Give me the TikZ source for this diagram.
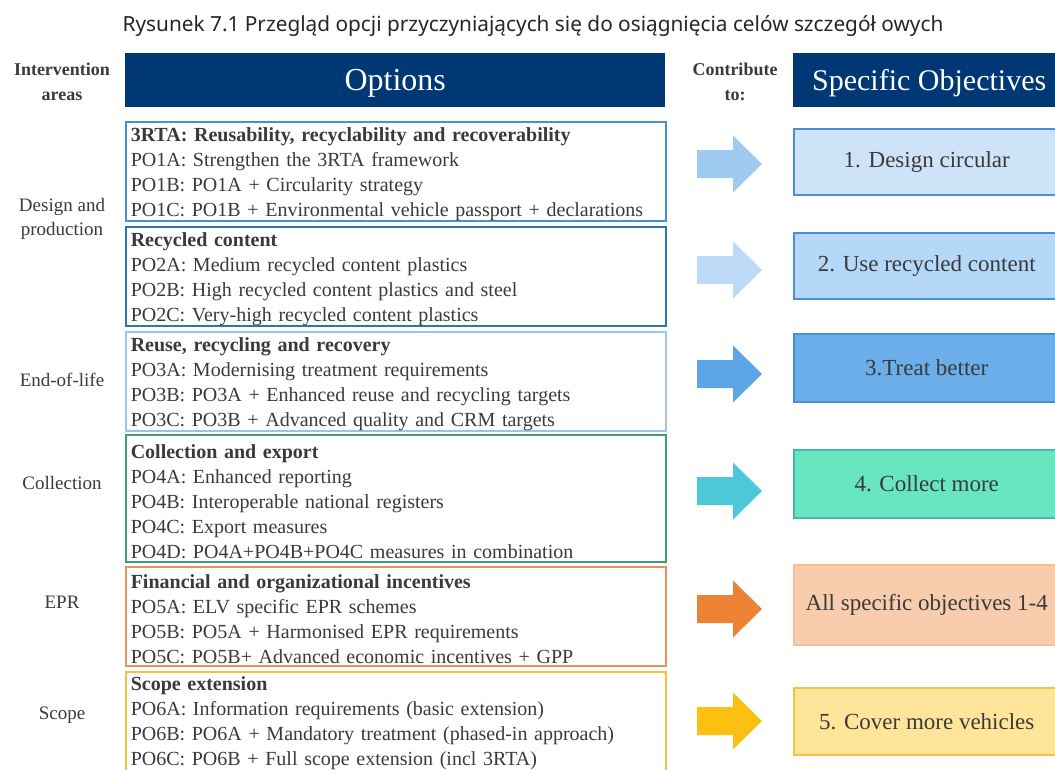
\documentclass[tikz,border=0pt]{standalone}
\usepackage{fontspec}
\setmainfont{Liberation Serif}
\newfontfamily\captionfont{Noto Sans}
\usetikzlibrary{positioning}
\definecolor{navy}{HTML}{003876}
\definecolor{txtgray}{HTML}{3A3A3A}
\definecolor{lineA}{HTML}{4A8FD4}
\definecolor{lineB}{HTML}{2E75B6}
\definecolor{lineC}{HTML}{9DC3E6}
\definecolor{lineD}{HTML}{3F9E6A}
\definecolor{lineE}{HTML}{E9915A}
\definecolor{lineF}{HTML}{F5C242}
\definecolor{arrA}{HTML}{9FCBF2}
\definecolor{arrB}{HTML}{BCDAF7}
\definecolor{arrC}{HTML}{5CA5E6}
\definecolor{arrD}{HTML}{4CC8D8}
\definecolor{arrE}{HTML}{EC8233}
\definecolor{arrF}{HTML}{FDBF12}
\definecolor{objA}{HTML}{CFE3F8}
\definecolor{objB}{HTML}{B5D7F8}
\definecolor{objC}{HTML}{6BAFEA}
\definecolor{objD}{HTML}{68E6C0}
\definecolor{objE}{HTML}{F7CDAE}
\definecolor{objF}{HTML}{FFE59A}
\newcommand{\optstrut}{\rule{0pt}{20pt}}
\tikzset{
  optbox/.style={draw, line width=1.5pt, anchor=north west, text width=530pt,
    inner xsep=5pt, inner ysep=0pt, align=left, text=txtgray,
    font=\fontsize{20}{25}\selectfont},
  objbox/.style={draw, line width=1.5pt, anchor=north west, minimum width=266pt,
    text=txtgray, font=\fontsize{23}{26}\selectfont},
  headbox/.style={fill=navy, anchor=north west, minimum height=54pt, text=white,
    text depth=0pt},
  area/.style={align=center, text=txtgray, font=\fontsize{19}{24}\selectfont},
  colhead/.style={align=center, text=txtgray, font=\fontsize{18}{25}\selectfont\bfseries},
}

\begin{document}
\begin{tikzpicture}[x=1pt, y=-1pt]
  \useasboundingbox (0,0) rectangle (1055,769);
  %% caption
  \node[text=black!85, font=\captionfont\fontsize{20.8}{24}\selectfont] (title) at (533,26)
    {Rysunek 7.1 Przegląd opcji przyczyniających się do osiągnięcia celów szczegół owych};
  %% column heads
  \node[colhead] (areahead) at (62,82) {Intervention\\areas};
  \node[headbox, minimum width=540pt, font=\fontsize{32}{36}\selectfont] (opthead) at (125,53) {Options};
  \node[colhead] (contrib) at (735,82) {Contribute\\to:};
  \node[headbox, minimum width=272pt, font=\fontsize{30}{34}\selectfont] (objhead) at (793,53) {Specific Objectives};
  %% options
  \node[optbox, draw=lineA, minimum height=99pt] (opt1) at (125,121)
    {\optstrut\textbf{3RTA: Reusability, recyclability and recoverability}\\
     PO1A: Strengthen the 3RTA framework\\
     PO1B: PO1A + Circularity strategy\\
     PO1C: PO1B + Environmental vehicle passport + declarations};
  \node[optbox, draw=lineB, minimum height=99pt] (opt2) at (125,226)
    {\optstrut\textbf{Recycled content}\\
     PO2A: Medium recycled content plastics\\
     PO2B: High recycled content plastics and steel\\
     PO2C: Very-high recycled content plastics};
  \node[optbox, draw=lineC, minimum height=97pt] (opt3) at (125,331)
    {\optstrut\textbf{Reuse, recycling and recovery}\\
     PO3A: Modernising treatment requirements\\
     PO3B: PO3A + Enhanced reuse and recycling targets\\
     PO3C: PO3B + Advanced quality and CRM targets};
  \node[optbox, draw=lineD, minimum height=127pt] (opt4) at (125,434)
    {\optstrut\textbf{Collection and export}\\
     PO4A: Enhanced reporting\\
     PO4B: Interoperable national registers\\
     PO4C: Export measures\\
     PO4D: PO4A+PO4B+PO4C measures in combination};
  \node[optbox, draw=lineE, minimum height=99pt] (opt5) at (125,566)
    {\optstrut\textbf{Financial and organizational incentives}\\
     PO5A: ELV specific EPR schemes\\
     PO5B: PO5A + Harmonised EPR requirements\\
     PO5C: PO5B+ Advanced economic incentives + GPP};
  \node[optbox, draw=lineF, minimum height=103pt] (opt6) at (125,671)
    {\textbf{Scope extension}\\
     PO6A: Information requirements (basic extension)\\
     PO6B: PO6A + Mandatory treatment (phased-in approach)\\
     PO6C: PO6B + Full scope extension (incl 3RTA)};
  %% intervention areas
  \node[area] (design) at (62,219) {Design and\\production};
  \node[area] (eol) at (62,380) {End-of-life};
  \node[area] (collect) at (62,483) {Collection};
  \node[area] (epr) at (62,602) {EPR};
  \node[area] (scope) at (62,715) {Scope};
  %% arrows
  \foreach \y/\c in {164/arrA, 270/arrB, 374/arrC, 491/arrD, 609/arrE, 721/arrF}
    \fill[\c] (697,{\y-14}) -- (733,{\y-14}) -- (733,{\y-28.5}) -- (762,\y)
      -- (733,{\y+28.5}) -- (733,{\y+14}) -- (697,{\y+14}) -- cycle;
  %% objectives
  \node[objbox, draw=lineA, fill=objA, minimum height=66pt] (obj1) at (793,128) {1. Design circular};
  \node[objbox, draw=lineA, fill=objB, minimum height=66pt] (obj2) at (793,232) {2. Use recycled content};
  \node[objbox, draw=lineA, fill=objC, minimum height=68pt] (obj3) at (793,333) {3.Treat better};
  \node[objbox, draw=arrD!60!lineD, fill=objD, minimum height=68pt] (obj4) at (793,449) {4. Collect more};
  \node[objbox, draw=objE!80!arrE, fill=objE, minimum height=80pt] (obj5) at (793,564) {All specific objectives 1-4};
  \node[objbox, draw=lineF, fill=objF, minimum height=67pt] (obj6) at (793,687) {5. Cover more vehicles};
\end{tikzpicture}
\end{document}
